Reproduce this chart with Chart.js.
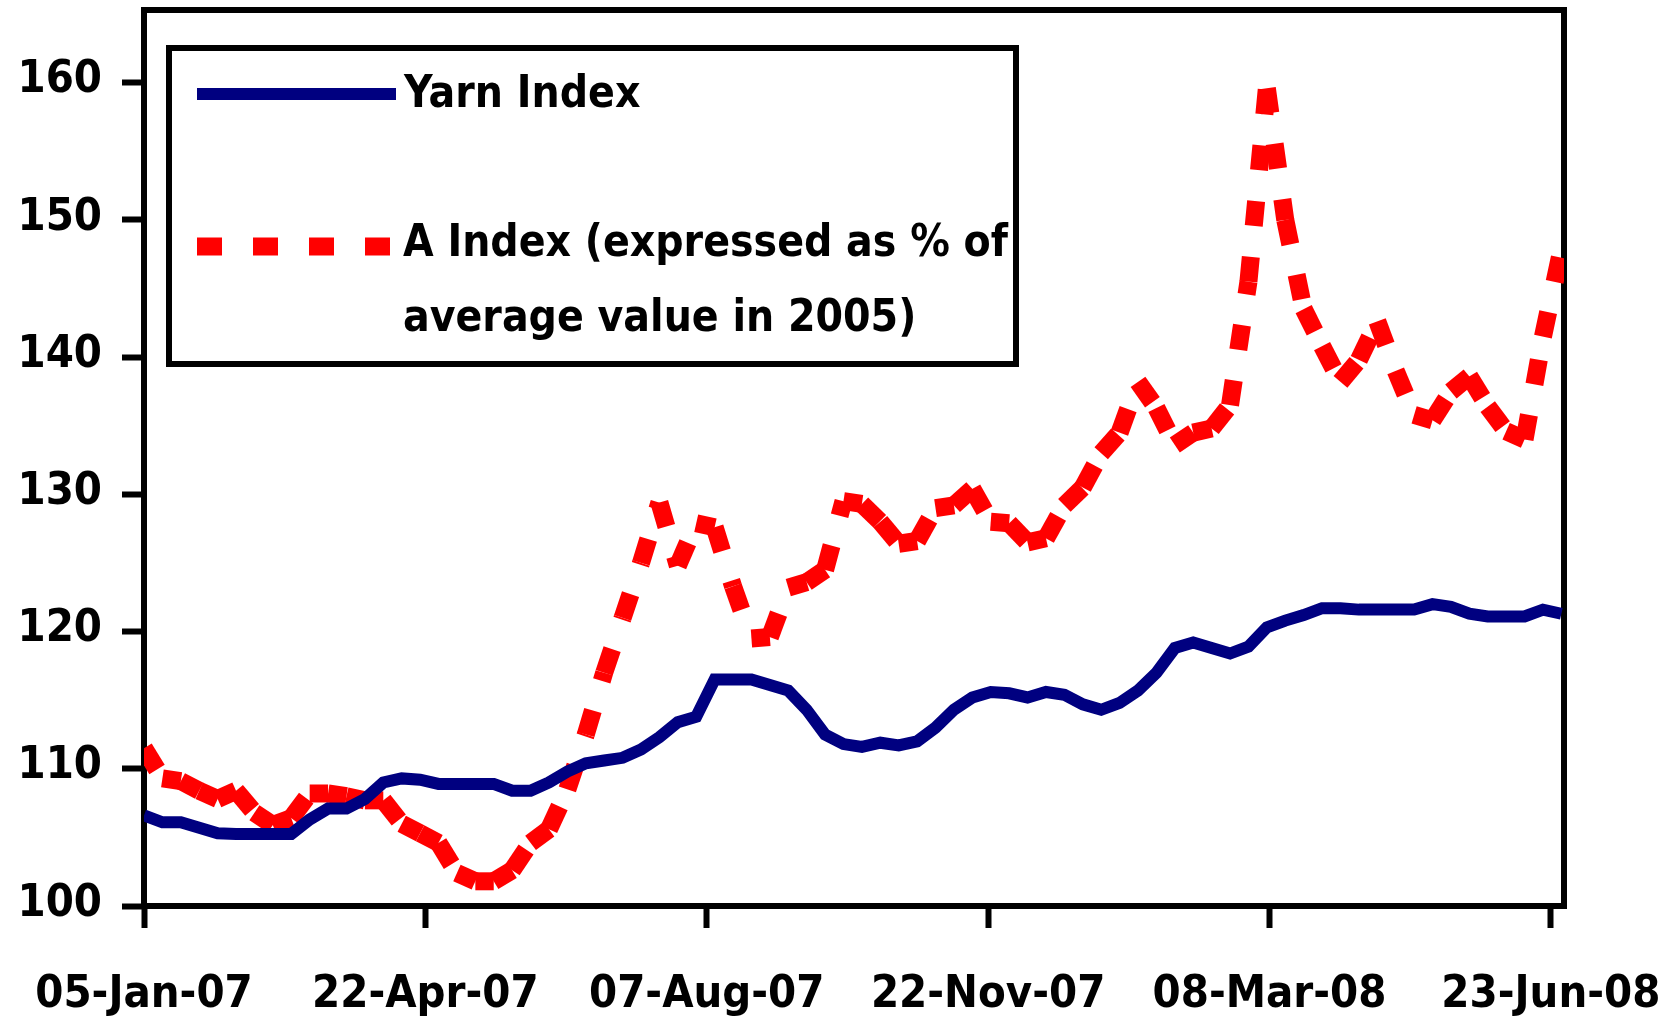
<!DOCTYPE html>
<html>
<head>
<meta charset="utf-8">
<script src="https://cdn.jsdelivr.net/npm/chart.js@4.4.1/dist/chart.umd.min.js"></script>
<style>
html, body { margin: 0; padding: 0; background: #fff; }
</style>
</head>
<body>
<canvas id="chart" width="1675" height="1017"></canvas>
<script>
// weekly readings, first one on 05-Jan-07
const yarnIndex = [
  106.6, 106.1, 106.1, 105.7, 105.3, 105.25, 105.25, 105.25, 105.25, 106.3,
  107.1, 107.1, 107.8, 109.0, 109.3, 109.2, 108.9, 108.9, 108.9, 108.9,
  108.4, 108.4, 109.0, 109.8, 110.4, 110.6, 110.8, 111.4, 112.3, 113.4,
  113.8, 116.5, 116.5, 116.5, 116.1, 115.7, 114.3, 112.5, 111.8, 111.6,
  111.9, 111.7, 112.0, 113.0, 114.3, 115.2, 115.6, 115.5, 115.2, 115.6,
  115.4, 114.7, 114.3, 114.8, 115.7, 117.0, 118.8, 119.2, 118.8, 118.4,
  118.9, 120.3, 120.8, 121.2, 121.7, 121.7, 121.6, 121.6, 121.6, 121.6,
  122.0, 121.8, 121.3, 121.1, 121.1, 121.1, 121.6, 121.3
]
const aIndex = [
  111.5, 109.3, 109.1, 108.4, 107.8, 108.4, 106.8, 105.9, 106.4, 108.2,
  108.2, 108.0, 107.7, 107.7, 106.0, 105.3, 104.6, 102.4, 101.8, 101.8,
  102.6, 104.6, 105.6, 108.5, 112.5, 117.0, 121.0, 125.0, 129.4, 124.8,
  127.9, 127.6, 123.3, 119.5, 119.6, 123.2, 123.6, 124.5, 129.5, 129.3,
  128.0, 126.4, 126.6, 129.0, 129.2, 130.4, 128.0, 127.9, 126.5, 126.8,
  129.2, 130.5, 133.0, 134.5, 138.2, 136.3, 133.6, 134.5, 134.8, 136.5,
  145.5, 159.6, 150.0, 143.5, 140.8, 138.2, 139.8, 142.6, 139.0, 135.8,
  135.4, 137.5, 138.6, 136.4, 134.6, 134.0, 141.5, 147.8
]
// x axis is in days from 05-Jan-07
const tickDays = [0, 107, 214, 321, 428, 535]
const tickLabels = ['05-Jan-07', '22-Apr-07', '07-Aug-07', '22-Nov-07', '08-Mar-08', '23-Jun-08']
const yTicks = [100, 110, 120, 130, 140, 150, 160]
const legendLines = [['Yarn Index'], ['A Index (expressed as % of', 'average value in 2005)']]

const fontFamily = "'DejaVu Sans Condensed', 'DejaVu Sans', sans-serif"
Chart.defaults.font.family = fontFamily
Chart.defaults.font.weight = 'bold'
Chart.defaults.color = '#000'

const toPoints = vals => vals.map((v, i) => ({x: i * 7, y: v}))

// black frame round the plot
const frame = {
  id: 'frame',
  beforeDatasetsDraw(chart) {
    const {ctx, chartArea: a} = chart
    ctx.save()
    ctx.lineWidth = 6
    ctx.strokeStyle = '#000'
    ctx.strokeRect(a.left, a.top, a.right - a.left, a.bottom - a.top)
    ctx.restore()
  }
}

// boxed legend inside the plot, top left
const boxLegend = {
  id: 'boxLegend',
  afterDatasetsDraw(chart) {
    const ctx = chart.ctx
    const sets = chart.data.datasets
    ctx.save()
    ctx.fillStyle = '#fff'
    ctx.fillRect(169, 48, 847, 316)
    ctx.lineWidth = 6
    ctx.strokeStyle = '#000'
    ctx.strokeRect(169, 48, 847, 316)

    ctx.lineCap = 'butt'
    ctx.strokeStyle = sets[0].borderColor
    ctx.lineWidth = sets[0].borderWidth
    ctx.beginPath()
    ctx.moveTo(197, 94)
    ctx.lineTo(396, 94)
    ctx.stroke()

    ctx.strokeStyle = sets[1].borderColor
    ctx.lineWidth = sets[1].borderWidth
    ctx.setLineDash(sets[1].borderDash)
    ctx.beginPath()
    ctx.moveTo(197, 246.5)
    ctx.lineTo(390, 246.5)
    ctx.stroke()
    ctx.setLineDash([])

    ctx.fillStyle = '#000'
    ctx.font = 'bold 44px ' + fontFamily
    ctx.textBaseline = 'alphabetic'
    ctx.fillText(legendLines[0][0], 404, 107)
    ctx.fillText(legendLines[1][0], 403, 256)
    ctx.fillText(legendLines[1][1], 403, 331)
    ctx.restore()
  }
}

const tickGrid = {
  drawOnChartArea: false,
  drawTicks: true,
  tickLength: 22,
  tickWidth: 6,
  tickColor: '#000'
}

new Chart(document.getElementById('chart'), {
  type: 'line',
  data: {
    datasets: [
      {
        label: legendLines[0].join(' '),
        data: toPoints(yarnIndex),
        borderColor: '#000080',
        borderWidth: 12,
        pointRadius: 0,
        tension: 0
      },
      {
        label: legendLines[1].join(' '),
        data: toPoints(aIndex),
        borderColor: '#ff0000',
        borderWidth: 18,
        borderDash: [25, 31],
        pointRadius: 0,
        tension: 0,
        // restart the dash on every segment, the way the original draws it
        segment: {borderDashOffset: c => (c.p0DataIndex % 2) * 56}
      }
    ]
  },
  options: {
    responsive: false,
    devicePixelRatio: 1,
    animation: false,
    layout: {padding: {top: 10, right: 111, left: 0, bottom: 0}},
    plugins: {legend: {display: false}, tooltip: {enabled: false}},
    scales: {
      x: {
        type: 'linear',
        min: 0,
        max: 540,
        afterBuildTicks: s => { s.ticks = tickDays.map(v => ({value: v})) },
        afterFit: s => { s.height = 111; s.paddingLeft = 0; s.paddingRight = 0 },
        grid: tickGrid,
        border: {display: false},
        ticks: {
          autoSkip: false,
          maxRotation: 0,
          padding: 40,
          font: {size: 45},
          callback: (v, i) => tickLabels[i]
        }
      },
      y: {
        min: 100,
        max: 165.3,
        afterBuildTicks: s => { s.ticks = yTicks.map(v => ({value: v})) },
        afterFit: s => { s.width = 144; s.paddingTop = 0; s.paddingBottom = 0 },
        grid: tickGrid,
        border: {display: false},
        ticks: {
          padding: 20,
          labelOffset: -2,
          font: {size: 45}
        }
      }
    }
  },
  plugins: [frame, boxLegend]
})
</script>
</body>
</html>
